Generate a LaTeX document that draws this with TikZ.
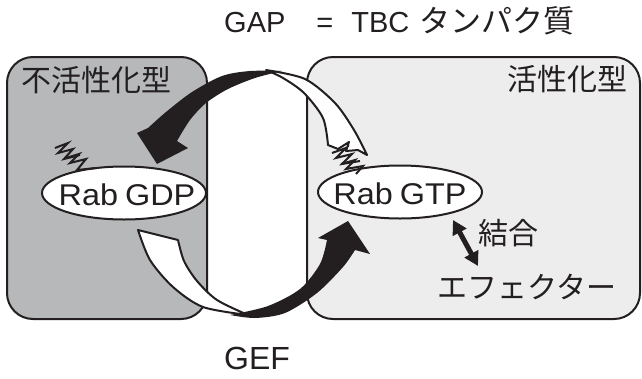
\documentclass[tikz,border=0pt]{standalone}
\usepackage{fontspec}
\setmainfont{Liberation Sans}
\newfontfamily\jp{Noto Sans CJK JP}
\newfontfamily\widesans[FakeStretch=1.08]{Liberation Sans}
\usetikzlibrary{shapes.geometric,arrows.meta}
\definecolor{inact}{HTML}{B7B8BA}
\definecolor{act}{HTML}{EDEDED}
\definecolor{ink}{HTML}{231F20}
\begin{document}
\begin{tikzpicture}[x=1pt,y=-1pt,line join=round,
  boxstyle/.style={draw=ink,line width=2pt,rounded corners=26pt},
  ovalstyle/.style={ellipse,draw=ink,line width=2pt,fill=white,minimum width=164pt,minimum height=53pt,inner sep=0pt},
  jplbl/.style={font=\jp\fontsize{30}{36}\selectfont,text=ink,inner sep=0pt},
  rablbl/.style={font=\widesans\fontsize{30}{34}\selectfont,text=ink,inner sep=0pt},
  whitearrow/.style={fill=white,draw=ink,line width=2pt},
  zig/.style={draw=ink,line width=2pt,line join=miter}]
\useasboundingbox (0,0) rectangle (642,378);
% boxes
\path[boxstyle,fill=inact] (7,57) rectangle (207,319);
\path[boxstyle,fill=act] (307,57) rectangle (640,319);
% labels of the boxes
\node[jplbl] (inactlbl) at (96,80) {不活性化型};
\node[jplbl] (actlbl) at (567,79) {活性化型};
% ovals
\node[ovalstyle] (gdp) at (124,193) {};
\node[ovalstyle] (gtp) at (400,192) {};
\node[rablbl] (gdptxt) at (127,195) {Rab\hspace{-2pt} GDP};
\node[rablbl] (gtptxt) at (400,194) {Rab\hspace{-2pt} GTP};
% white arrows
\filldraw[whitearrow] plot[smooth] coordinates {(266,70) (305,79) (335,103) (354,130) (367,155)}
  -- (358,150) -- (346,151) -- (349,142) -- (338,149) -- (328,145)
  -- plot[smooth] coordinates {(328,145) (323,118) (304,93) (283,78) (266,70)} -- cycle;
\filldraw[whitearrow] (138,230) -- (178,240)
  -- plot[smooth] coordinates {(178,240) (184,261) (197,281) (217,300) (248,315)}
  -- plot[smooth] coordinates {(248,315) (203,307) (173,287) (150,260) (138,230)} -- cycle;
% black arrows
\fill[ink] plot[smooth] coordinates {(282,71) (250,71) (222,76) (192,92) (166,112) (148,128)}
  -- (137,133) -- (157,164) -- (188,148) -- (177,141)
  -- plot[smooth] coordinates {(177,141) (190,120) (206,103) (228,89) (255,78) (282,71)} -- cycle;
\fill[ink] plot[smooth] coordinates {(230,315) (255,318) (285,313) (317,293) (343,267) (355,250)}
  -- (370,254) -- (348,221) -- (318,238) -- (327,240)
  -- plot[smooth] coordinates {(327,240) (320,264) (300,289) (268,306) (230,315)} -- cycle;
% zigzag marks
\draw[zig] (55,148) -- (68,143) -- (58,153) -- (73,149) -- (64,159) -- (80,155);
\draw[zig] (66,158) -- (79,154) -- (70,163) -- (86,159) -- (77,170) -- (96,168);
\draw[zig] (332,153) -- (346,148) -- (336,158) -- (352,154) -- (342,164) -- (360,161);
\draw[zig] (341,164) -- (355,160) -- (346,169) -- (363,166) -- (356,174);
% title texts
\node[font=\fontsize{29}{34}\selectfont,text=ink,inner sep=0pt,anchor=base west] (gap) at (224,32)
  {GAP\hspace{31pt}=\hspace{18pt}TBC\hspace{10pt}{\jp\fontsize{31}{36}\selectfont タンパク質}};
\node[font=\fontsize{32}{36}\selectfont,text=ink,inner sep=0pt] (gef) at (257,358) {GEF};
% binding
\node[jplbl] (bind) at (508,233) {結合};
\node[jplbl] (eff) at (527,287) {エフェクター};
\coordinate (bindA) at (453,220);
\coordinate (bindB) at (478,266);
\draw[ink,line width=5pt,{Triangle[length=14pt,width=15pt]}-{Triangle[length=14pt,width=15pt]}] (bindA) -- (bindB);
\end{tikzpicture}
\end{document}
